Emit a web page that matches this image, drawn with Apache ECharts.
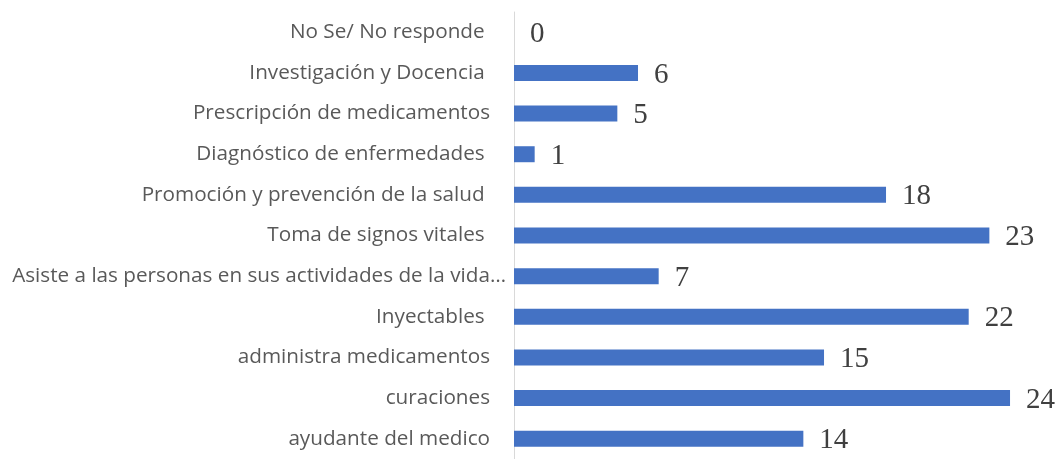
<!DOCTYPE html>
<html>
<head>
<meta charset="utf-8">
<script src="https://cdn.jsdelivr.net/npm/echarts@6/dist/echarts.min.js"></script>
<style>
  html, body { margin: 0; padding: 0; background: #fff; }
  #chart { width: 1060px; height: 459px; }
</style>
</head>
<body>
<div id="chart"></div>
<script>
// Categories listed bottom to top, as the category axis draws them
const categories = [
  'ayudante del medico',
  'curaciones',
  'administra medicamentos',
  'Inyectables ',
  'Asiste a las personas en sus actividades de la vida…',
  'Toma de signos vitales ',
  'Promoción y prevención de la salud ',
  'Diagnóstico de enfermedades ',
  'Prescripción de medicamentos',
  'Investigación y Docencia ',
  'No Se/ No responde '
];
const values = [14, 24, 15, 22, 7, 23, 18, 1, 5, 6, 0];

const chart = echarts.init(document.getElementById('chart'), null, { renderer: 'canvas' });

chart.setOption({
  animation: false,
  grid: { left: 514, width: 516.7, top: 12, height: 452, containLabel: false },
  xAxis: {
    type: 'value',
    min: 0,
    max: 25,
    show: false,
    splitLine: { show: false }
  },
  yAxis: {
    type: 'category',
    data: categories,
    axisLine: { show: true, lineStyle: { color: '#d9d9d9', width: 1 } },
    axisTick: { show: false },
    axisLabel: {
      margin: 8,
      fontFamily: 'Open Sans',
      fontSize: 20.7,
      color: '#595959',
      formatter: function (v) {
        return v.endsWith('…') ? '{l|' + v + '}' : '{n|' + v + '}';
      },
      rich: {
        n: { fontFamily: 'Open Sans', fontSize: 20.7, color: '#595959', padding: [0, 16, 0, 0] },
        l: { fontFamily: 'Open Sans', fontSize: 20.7, color: '#595959' }
      }
    }
  },
  series: [{
    type: 'bar',
    data: values,
    barWidth: 16,
    itemStyle: { color: '#4472c4' },
    label: {
      show: true,
      position: 'right',
      distance: 16,
      offset: [0, 2],
      fontFamily: 'Liberation Serif',
      fontSize: 29,
      color: '#404040'
    }
  }]
});
</script>
</body>
</html>
